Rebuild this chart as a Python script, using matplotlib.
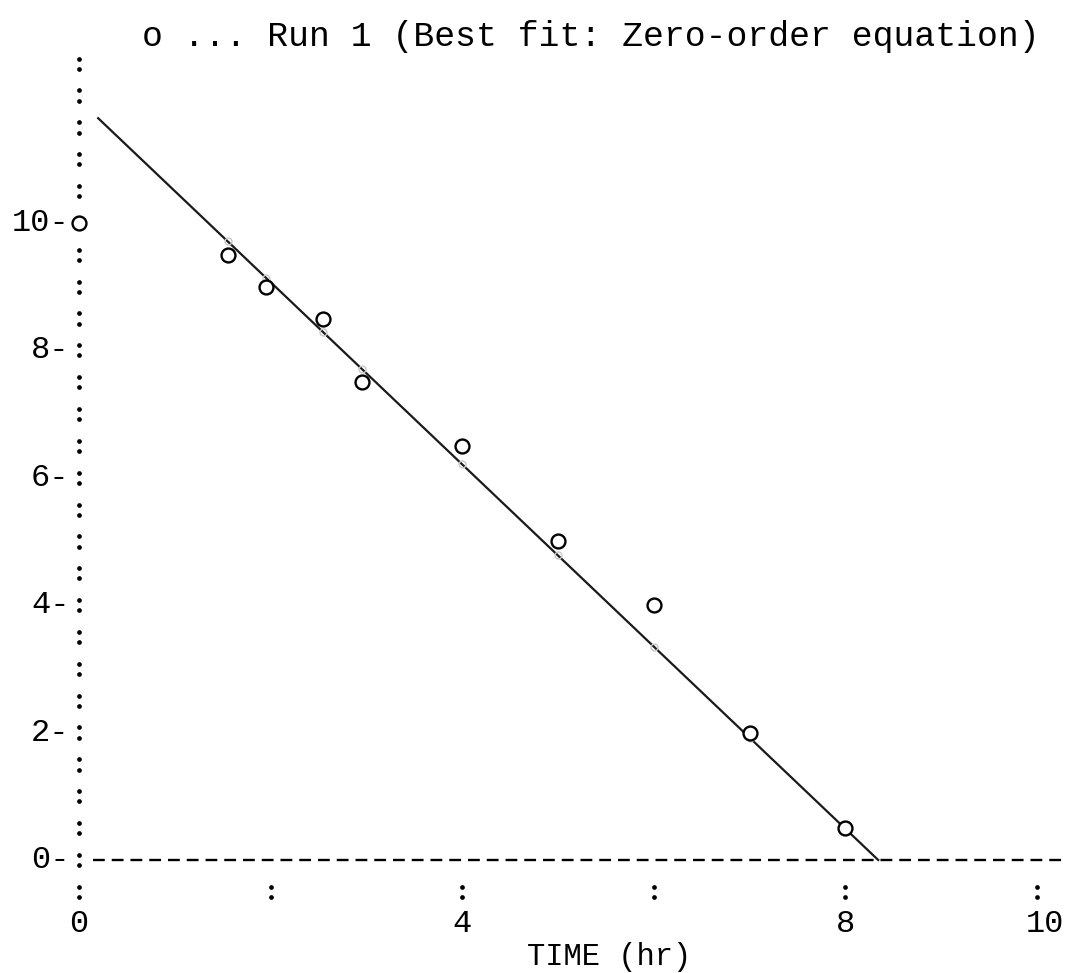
import numpy as np
import matplotlib
matplotlib.use("Agg")
import matplotlib.pyplot as plt

plt.rcParams['font.family'] = ['Liberation Mono', 'DejaVu Sans Mono']
plt.rcParams['lines.scale_dashes'] = False

# Run 1 data
time_hr = [0, 1.55, 1.95, 2.55, 2.95, 4, 5, 6, 7, 8]
conc = [10, 9.5, 9, 8.5, 7.5, 6.5, 5, 4, 2, 0.5]

# zero-order fit: C = c0 - k*t
c0 = 11.93
k = 1.43
fit_start = 0.2

y_ticks = [0, 2, 4, 6, 8, 10]
x_ticks = [0, 2, 4, 6, 8, 10]
x_labels = ["0", "", "4", "", "8", "10"]

title = "o ... Run 1 (Best fit: Zero-order equation)"
xlabel = "TIME (hr)"

fig = plt.figure(figsize=(10.66, 9.73), dpi=100)
ax = fig.add_axes([0, 0, 1, 1])
ax.axis('off')
ax.set_xlim(-0.825, 10.303)
ax.set_ylim(-1.774, 13.5)

# dotted y axis made of colons every half unit
colon_y = np.arange(-0.5, 12.51, 0.5)
colon_y = colon_y[~np.isclose(colon_y, 10)]
dy = 0.08
ax.plot(np.zeros(len(colon_y) * 2), np.concatenate([colon_y - dy, colon_y + dy]),
        'o', color='black', ms=3.4, mew=0, ls='none')

# colons under the x axis
xc = np.array([t for t in x_ticks if t != 0])
ax.plot(np.concatenate([xc, xc]), np.concatenate([np.full(len(xc), -0.5 - dy), np.full(len(xc), -0.5 + dy)]),
        'o', color='black', ms=3.4, mew=0, ls='none')

# y tick labels like "10-"
for v in y_ticks:
    ax.text(-0.1, v, f"{v}-", ha='right', va='center', fontsize=23)

# x tick labels
for t, lab in zip(x_ticks, x_labels):
    if lab:
        ax.text(t + (0.08 if t == 10 else 0), -1.0, lab, ha='center', va='center', fontsize=23)

ax.text(5.53, -1.52, xlabel, ha='center', va='center', fontsize=22)
fig.text(0.554, 0.963, title, ha='center', va='center', fontsize=25)

# dashed zero line
ax.plot([0.15, 10.303], [0, 0], color='black', lw=1.7, dashes=(8.5, 5))

# fitted line
t_end = c0 / k
tt = np.array([fit_start, t_end])
ax.plot(tt, c0 - k * tt, color='#1a1a1a', lw=1.6)

# faint calculated values on the line
tx = np.array(time_hr[1:])
ax.plot(tx, c0 - k * tx, 'o', mfc='none', mec='#c8c8c8', ms=5, mew=1, ls='none')

# observed points
ax.plot(time_hr, conc, 'o', mfc='white', mec='black', ms=10, mew=1.7, ls='none', zorder=5)

fig.savefig("out.png", dpi=100)
